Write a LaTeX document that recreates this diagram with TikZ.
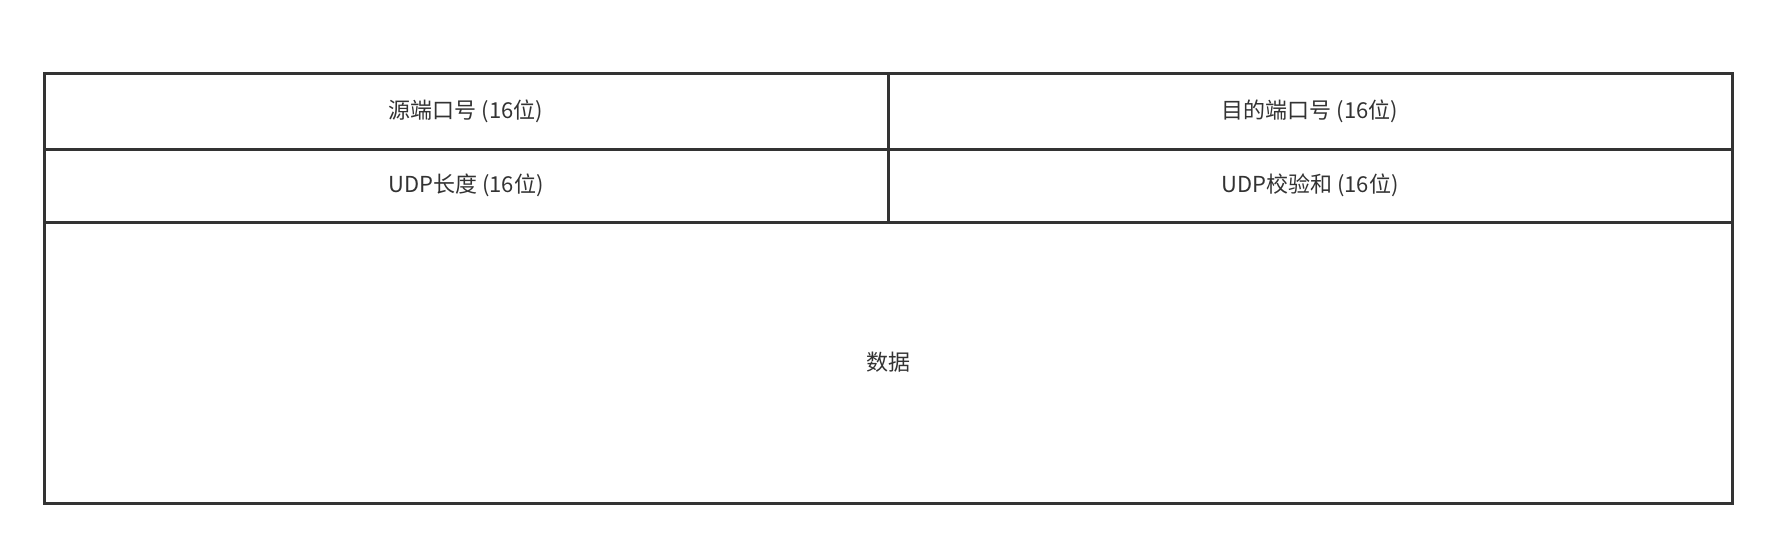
\documentclass[tikz,border=0pt]{standalone}
\usepackage{fontspec}
\setmainfont{Noto Sans CJK SC}
\usetikzlibrary{positioning}
\definecolor{lineGray}{RGB}{51, 51, 51}
\definecolor{textGray}{RGB}{51, 51, 51}

\begin{document}
\begin{tikzpicture}[
    x=1pt, y=-1pt,
    node distance=0pt,
    cell/.style={rectangle, draw=lineGray, line width=3pt, fill=white,
                 outer sep=0pt, inner sep=0pt, minimum width=844pt,
                 align=center, text=textGray, font=\fontsize{22}{26}\selectfont},
    wide/.style={cell, minimum width=1688pt}
  ]
    \useasboundingbox (0,0) rectangle (1770,536);
    \node[cell, minimum height=76pt, anchor=north west] (SRC) at (44,73) {源端口号 (16位)};
    \node[cell, minimum height=76pt, right=of SRC] (DST) {目的端口号 (16位)};
    \node[cell, minimum height=73pt, below=of SRC] (LEN) {UDP长度 (16位)};
    \node[cell, minimum height=73pt, below=of DST] (SUM) {UDP校验和 (16位)};
    \node[wide, minimum height=281pt, anchor=north west] (DATA) at (LEN.south west) {数据};
  \end{tikzpicture}
\end{document}
